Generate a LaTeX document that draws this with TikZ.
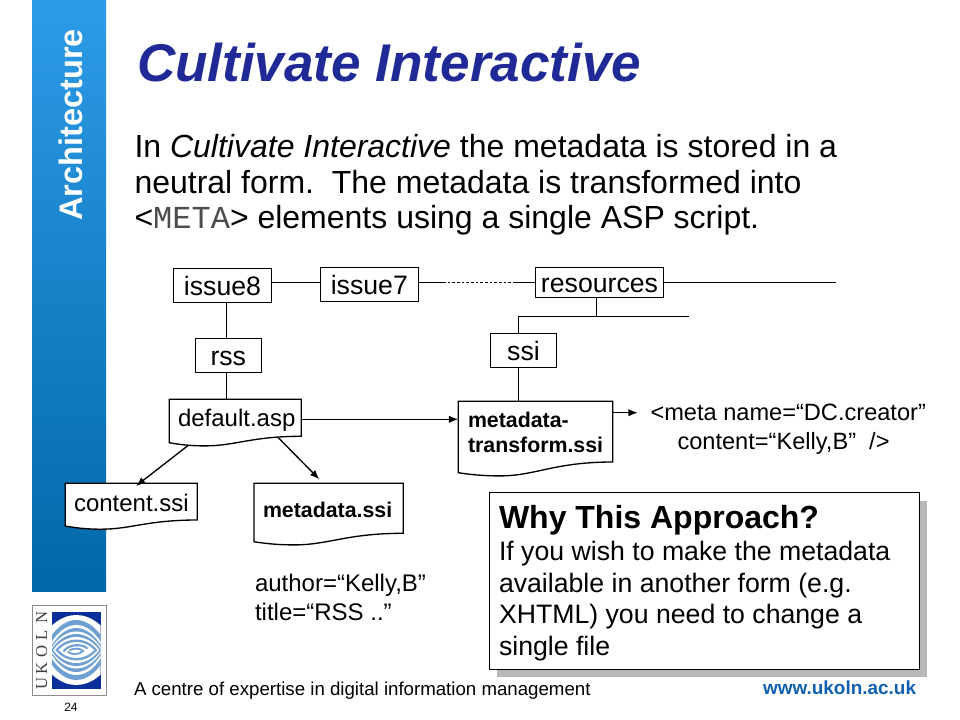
\documentclass[tikz,border=0pt]{standalone}
\usepackage{fontspec}
\setmainfont{Liberation Sans}
\newfontfamily\monof{Liberation Mono}
\newfontfamily\logof{Liberation Serif}
\usetikzlibrary{arrows.meta,calc}
\definecolor{titleblue}{HTML}{1F2A96}
\definecolor{sidetop}{HTML}{2E9BE8}
\definecolor{sidebot}{HTML}{0068A8}
\definecolor{urlblue}{HTML}{1060B0}
\definecolor{logonavy}{HTML}{0A2F9A}
\definecolor{logolight}{HTML}{6FA0D2}
\definecolor{shadowgray}{HTML}{B8B8B8}
\tikzset{
  x=0.75pt,y=-0.75pt,
  conn/.style={line width=1pt,black},
  arr/.style={conn,-{Latex[length=7pt,width=5.5pt]}},
  boxnode/.style={draw=black,line width=1pt,fill=white,inner sep=0pt,text height=14.8pt,text depth=0pt,font=\fontsize{20}{24}\selectfont},
  docbase/.style={inner sep=0pt,outer sep=0pt},
  docline/.style={draw=black,line width=1pt,fill=white},
  plain/.style={inner sep=0pt,outer sep=0pt,anchor=base west},
  body/.style={plain,font=\fontsize{24}{28}\selectfont},
  label/.style={plain,font=\fontsize{18}{22}\selectfont},
  boldlabel/.style={plain,font=\fontsize{16}{19}\selectfont\bfseries},
  whybody/.style={plain,font=\fontsize{20}{24}\selectfont},
  lens/.style={fill=#1},
}
\newcommand{\docshape}[6]{%
  % name, x0, y0, x1, right bottom, left bottom
  \path[docline] (#2,#3) -- (#4,#3) -- (#4,#5)
    .. controls ({#2+0.62*(#4-#2)},#5) and ({#2+0.5*(#4-#2)},{#6+3.2}) .. ({#2+0.27*(#4-#2)},{#6+3.2})
    .. controls ({#2+0.15*(#4-#2)},{#6+3.2}) and ({#2+0.06*(#4-#2)},{#6+1.5}) .. (#2,#6) -- cycle;
  \node[docbase,minimum width={(#4-#2)*0.75pt},minimum height={(#5-#3)*0.75pt}] (#1) at ({(#2+#4)/2},{(#3+#5)/2}) {};
}
\newcommand{\lensshape}[3]{% half width, half height, colour
  \fill[lens=#3] ({76.3-#1},650) .. controls ({76.3-0.45*#1},{650-#2/0.75}) and ({76.3+0.45*#1},{650-#2/0.75}) .. ({76.3+#1},650)
    .. controls ({76.3+0.45*#1},{650+#2/0.75}) and ({76.3-0.45*#1},{650+#2/0.75}) .. ({76.3-#1},650) -- cycle;
}
\begin{document}
\begin{tikzpicture}
\useasboundingbox (0,0) rectangle (960,720);
\fill[white] (0,0) rectangle (960,720);
% sidebar
\shade[top color=sidetop,bottom color=sidebot] (32,0) rectangle (106,591);
\node[inner sep=0pt,rotate=90,text=white,font=\fontsize{24.4}{28}\selectfont\bfseries,anchor=base] (side) at (82.5,125) {Architecture};
% title
\node[plain,text=titleblue,font=\fontsize{39.8}{48}\selectfont\bfseries\itshape] (title) at (137,82) {Cultivate Interactive};
% body
\node[body] (l1) at (134.5,157.7) {In \textit{Cultivate Interactive} the metadata is stored in a};
\node[body] (l2) at (134.5,193.2) {neutral form.\ \ The metadata is transformed into};
\node[body] (l3) at (134.5,228.3) {<{\monof\color{black!70}META}> elements using a single ASP script.};
% tree boxes
\node[boxnode,minimum width=73.5pt,minimum height=25.5pt] (issue8) at (222.5,285.3) {issue8};
\node[boxnode,minimum width=73.5pt,minimum height=25.5pt] (issue7) at (369.3,284.3) {issue7};
\node[boxnode,minimum width=49.5pt,minimum height=25.5pt] (rss) at (228.3,355.3) {rss};
\node[boxnode,minimum width=96.3pt,minimum height=22.5pt] (resources) at (599.5,282.3) {resources};
\node[boxnode,minimum width=49.8pt,minimum height=25.5pt] (ssi) at (523.5,350.3) {ssi};
% doc shapes
\docshape{default}{169.3}{399.3}{301.3}{436.3}{442.7}
\docshape{content}{65.3}{483.3}{197.3}{520}{526}
\docshape{metassi}{254}{483.3}{403.3}{533.3}{541.7}
\docshape{transform}{458.3}{401.3}{612.7}{462}{472.7}
\node[label] (defaulttxt) at (178,426.7) {default.asp};
\node[label] (contenttxt) at (74,511) {content.ssi};
\node[boldlabel] (metassitxt) at (263,517.2) {metadata.ssi};
\node[boldlabel] (tr1) at (468,427.5) {metadata-};
\node[boldlabel] (tr2) at (468,452.8) {transform.ssi};
% junctions
\coordinate (i8s) at (226.3,302.3);
\coordinate (rn) at (226.3,338.3);
\coordinate (rs) at (226.3,372.3);
\coordinate (dn) at (226.3,399.3);
\coordinate (dot1) at (443,282.3);
\coordinate (dot2) at (513,282.3);
\coordinate (rright) at (836,282.3);
\coordinate (rs1) at (596.3,297);
\coordinate (rs2) at (596.3,316.3);
\coordinate (hl) at (518.3,316.3);
\coordinate (hr) at (688.7,316.3);
\coordinate (sn) at (518.3,333.3);
\coordinate (ss) at (518.3,367.3);
\coordinate (tn) at (518.3,401.3);
\coordinate (ds1) at (188.3,445.3);
\coordinate (ce) at (136,486);
\coordinate (ds2) at (278.3,437.7);
\coordinate (me) at (319.3,479.3);
\coordinate (de) at (301.3,419.3);
\coordinate (te) at (458.3,419.3);
\coordinate (ts) at (612.7,412.7);
\coordinate (meta) at (637.7,412.7);
\coordinate (i8e) at (271.7,282.3);
\coordinate (i7w) at (320.3,282.3);
\coordinate (i7e) at (418.3,282.3);
\draw[conn] (i8e) -- (i7w);
\draw[conn] (i7e) -- (dot1);
\draw[conn,dash pattern=on 2pt off 1.5pt,line width=0.7pt] (dot1) -- (dot2);
\draw[conn] (dot2) -- (dot2 -| resources.west);
\draw[conn] (resources.east) -- (rright);
\draw[conn] (rs1) -- (rs2);
\draw[conn] (hl) -- (hr);
\draw[conn] (hl) -- (sn);
\draw[conn] (ss) -- (tn);
\draw[conn] (i8s) -- (rn);
\draw[conn] (rs) -- (dn);
\draw[arr] (de) -- (te);
\draw[arr] (ts) -- (meta);
\draw[arr] (ds1) -- (ce);
\draw[arr] (ds2) -- (me);
% free text
\node[plain,font=\fontsize{17.7}{22}\selectfont] (m1) at (650.5,420.5) {<meta name=“DC.creator”};
\node[plain,font=\fontsize{17.7}{22}\selectfont] (m2) at (677.5,449.5) {content=“Kelly,B”\ \ />};
\node[label] (a1) at (255,591.3) {author=“Kelly,B”};
\node[label] (a2) at (255,620.3) {title=“RSS ..”};
% why box
\fill[shadowgray] (497.3,500.7) rectangle (927.3,677.3);
\draw[line width=1pt,fill=white] (489.3,492.7) rectangle (919.3,669.3);
\node[plain,font=\fontsize{24}{28}\selectfont\bfseries] (why) at (499,528.2) {Why This Approach?};
\node[whybody] (w1) at (499,560.5) {If you wish to make the metadata};
\node[whybody] (w2) at (499,592) {available in another form (e.g.};
\node[whybody] (w3) at (499,623.7) {XHTML) you need to change a};
\node[whybody] (w4) at (499,655.7) {single file};
% footer
\node[plain,font=\fontsize{14}{17}\selectfont] (foot) at (134,695) {A centre of expertise in digital information management};
\node[plain,text=urlblue,font=\fontsize{14.2}{17}\selectfont\bfseries,anchor=base east] (url) at (916,694.5) {www.ukoln.ac.uk};
\node[inner sep=0pt,font=\fontsize{9}{11}\selectfont,anchor=base] (page) at (71,711.5) {24};
% logo
\draw[draw=black!45,line width=0.8pt,fill=white] (32.5,605.7) rectangle (106.5,695.7);
\fill[logonavy] (52,611.7) rectangle (100.7,689.3);
\begin{scope}
\clip (52,611.7) rectangle (100.7,689.3);
\lensshape{42}{35}{white}
\lensshape{33}{30}{logolight}
\lensshape{29}{25}{white}
\lensshape{27}{22}{logolight}
\lensshape{26}{18.5}{white}
\lensshape{25}{16}{logolight}
\lensshape{23}{13}{white}
\lensshape{21}{10.5}{logolight}
\lensshape{18}{8}{white}
\draw[logolight,line width=1.6pt,line cap=round] (64,651) .. controls (68,645) and (80,643) .. (87,648);
\draw[logolight,line width=1.4pt,line cap=round] (70,650) .. controls (74,648) and (80,648) .. (83,651) .. controls (79,655) and (72,655) .. (68,652);
\end{scope}
\foreach \ch/\yy/\nm in {U/683/lu,K/668/lk,O/651/lo,L/635/ll,N/617/ln}{
  \node[inner sep=0pt,rotate=90,text=black!75,font=\fontsize{12.5}{14}\logof,anchor=base] (\nm) at (47,\yy) {\ch};
}
\end{tikzpicture}
\end{document}
